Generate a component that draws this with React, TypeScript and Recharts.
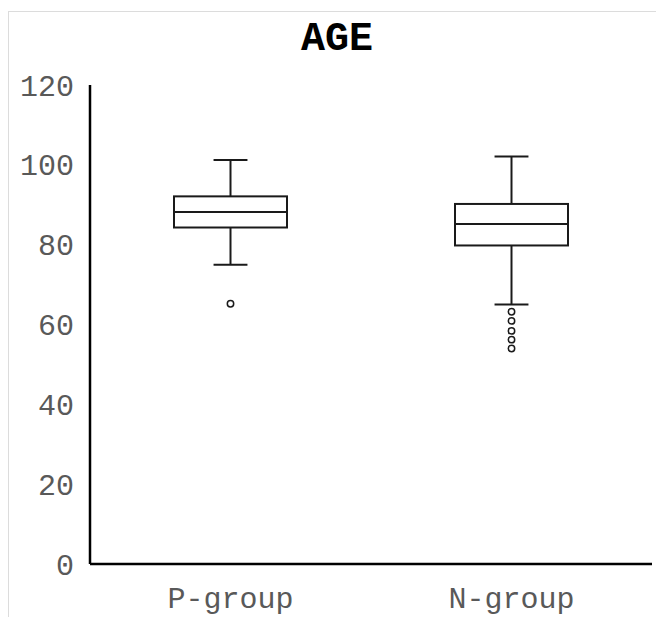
import React from 'react';
import { ComposedChart, Bar, Scatter, XAxis, YAxis } from 'recharts';

// box plot summary
const groups = ['P-group', 'N-group'];
const whiskerLow = [75, 65];
const q1 = [84.3, 79.8];
const median = [88.2, 85.2];
const q3 = [92.1, 90.2];
const whiskerHigh = [101.2, 102.1];
const outliers = [[65.2], [63.2, 60.9, 58.4, 56.2, 54]];
const yTicks = [0, 20, 40, 60, 80, 100, 120];

const maxOut = Math.max(...outliers.map((o) => o.length));

const data = groups.map((name, i) => {
  const row: Record<string, any> = {
    name,
    range: [whiskerLow[i], whiskerHigh[i]],
    low: whiskerLow[i],
    q1: q1[i],
    median: median[i],
    q3: q3[i],
    high: whiskerHigh[i],
  };
  outliers[i].forEach((v, k) => {
    row['out' + k] = v;
  });
  return row;
});

const mono = '"Liberation Mono", "Courier New", monospace';
const ink = '#1a1a1a';

function BoxShape(props: any) {
  const { x, y, width, height, payload } = props;
  if (![x, y, width, height].every(Number.isFinite)) return null;
  const lo = payload.low;
  const hi = payload.high;
  const toY = (v: number) => y + ((hi - v) / (hi - lo)) * height;
  const cx = x + width / 2;
  const cap = width * 0.3;
  const yQ1 = toY(payload.q1);
  const yQ3 = toY(payload.q3);
  const yMed = toY(payload.median);
  const yLo = toY(lo);
  const yHi = toY(hi);
  return (
    <g stroke={ink} strokeWidth={2} fill="none">
      <line x1={cx} x2={cx} y1={yHi} y2={yQ3} />
      <line x1={cx} x2={cx} y1={yQ1} y2={yLo} />
      <line x1={cx - cap / 2} x2={cx + cap / 2} y1={yHi} y2={yHi} />
      <line x1={cx - cap / 2} x2={cx + cap / 2} y1={yLo} y2={yLo} />
      <rect x={x} y={yQ3} width={width} height={yQ1 - yQ3} fill="#fff" />
      <line x1={x} x2={x + width} y1={yMed} y2={yMed} />
    </g>
  );
}

function OutlierDot(props: any) {
  const { cx, cy } = props;
  if (!Number.isFinite(cx) || !Number.isFinite(cy)) return null;
  return <circle cx={cx} cy={cy} r={3.2} stroke={ink} strokeWidth={1.5} fill="#fff" />;
}

export default function App() {
  return (
    <div
      style={{
        position: 'relative',
        marginTop: 3,
        width: 656,
        height: 606,
        borderLeft: '1px solid #dcdcdc',
        borderTop: '1px solid #dcdcdc',
        background: '#fff',
      }}
    >
      <div
        style={{
          position: 'absolute',
          left: 0,
          top: 8,
          width: 656,
          textAlign: 'center',
          fontFamily: mono,
          fontWeight: 'bold',
          fontSize: 40,
          lineHeight: '40px',
          color: '#000',
        }}
      >
        AGE
      </div>
      <ComposedChart
        width={655}
        height={605}
        data={data}
        margin={{ top: 73, right: 12, left: 0, bottom: 0 }}
      >
        <XAxis
          dataKey="name"
          tickLine={false}
          tickMargin={17}
          height={53}
          axisLine={{ stroke: '#000', strokeWidth: 2.5 }}
          tick={{ fontSize: 30, fill: '#595959', fontFamily: mono }}
        />
        <YAxis
          domain={[0, 120]}
          ticks={yTicks}
          width={81}
          tickLine={false}
          tickMargin={10}
          axisLine={{ stroke: '#000', strokeWidth: 2.5 }}
          tick={{ fontSize: 30, fill: '#595959', fontFamily: mono }}
        />
        <Bar dataKey="range" barSize={113} shape={<BoxShape />} isAnimationActive={false} />
        {Array.from({ length: maxOut }, (_, k) => (
          <Scatter
            key={k}
            dataKey={'out' + k}
            shape={<OutlierDot />}
            isAnimationActive={false}
          />
        ))}
      </ComposedChart>
    </div>
  );
}
